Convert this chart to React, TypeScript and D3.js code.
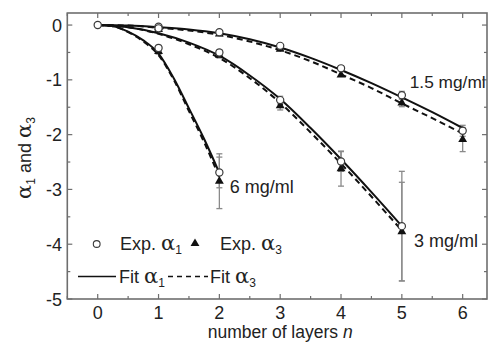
import React from "react";
import * as d3 from "d3";

// ---- data ----
const layers = [0, 1, 2, 3, 4, 5, 6];
const xTicks = [0, 1, 2, 3, 4, 5, 6];
const yTicks = [0, -1, -2, -3, -4, -5];

// experimental points [n, value, error]
const exp15a1: [number, number, number][] = [[0, 0, 0.03], [1, -0.03, 0.04], [2, -0.13, 0.04], [3, -0.38, 0.05], [4, -0.79, 0.05], [5, -1.28, 0.07], [6, -1.93, 0.1]];
const exp15a3: [number, number, number][] = [[0, 0, 0.03], [1, -0.05, 0.04], [2, -0.16, 0.04], [3, -0.44, 0.05], [4, -0.91, 0.06], [5, -1.42, 0.07], [6, -2.09, 0.22]];
const exp3a1: [number, number, number][] = [[1, -0.06, 0.04], [2, -0.5, 0.05], [3, -1.37, 0.07], [4, -2.49, 0.18], [5, -3.67, 1.0]];
const exp3a3: [number, number, number][] = [[1, -0.08, 0.04], [2, -0.55, 0.05], [3, -1.47, 0.08], [4, -2.62, 0.32], [5, -3.77, 0.9]];
const exp6a1: [number, number, number][] = [[1, -0.42, 0.05], [2, -2.69, 0.28]];
const exp6a3: [number, number, number][] = [[1, -0.48, 0.05], [2, -2.85, 0.5]];

// fit curves [n, value]
const fit15a1: [number, number][] = [[0, 0], [0.5, -0.01], [1, -0.04], [1.5, -0.08], [2, -0.15], [2.5, -0.26], [3, -0.41], [3.5, -0.6], [4, -0.82], [4.5, -1.06], [5, -1.32], [5.5, -1.59], [6, -1.88]];
const fit15a3: [number, number][] = [[0, 0], [0.5, -0.01], [1, -0.05], [1.5, -0.1], [2, -0.18], [2.5, -0.3], [3, -0.46], [3.5, -0.66], [4, -0.9], [4.5, -1.15], [5, -1.43], [5.5, -1.7], [6, -1.98]];
const fit3a1: [number, number][] = [[0, 0], [0.5, -0.04], [1, -0.15], [1.5, -0.32], [2, -0.56], [2.5, -0.92], [3, -1.35], [3.5, -1.88], [4, -2.45], [4.5, -3.05], [5, -3.67]];
const fit3a3: [number, number][] = [[0, 0], [0.5, -0.04], [1, -0.16], [1.5, -0.35], [2, -0.6], [2.5, -0.97], [3, -1.42], [3.5, -1.96], [4, -2.53], [4.5, -3.13], [5, -3.75]];
const fit6a1: [number, number][] = [[0, 0], [0.25, -0.02], [0.5, -0.12], [0.75, -0.28], [1, -0.52], [1.25, -0.97], [1.5, -1.52], [1.75, -2.08], [2, -2.7]];
const fit6a3: [number, number][] = [[0, 0], [0.25, -0.02], [0.5, -0.13], [0.75, -0.3], [1, -0.55], [1.25, -1.0], [1.5, -1.57], [1.75, -2.14], [2, -2.78]];

const seriesLabels = [
  { text: "1.5 mg/ml", n: 5.13, v: -1.15, size: 17.3 },
  { text: "6 mg/ml", n: 2.17, v: -3.06, size: 18 },
  { text: "3 mg/ml", n: 5.2, v: -4.06, size: 18 },
];

const W = 489, H = 343;
const x = d3.scaleLinear().domain([-0.5, 6.4]).range([67.3, 487]);
const y = d3.scaleLinear().domain([-5, 0.22]).range([299, 13]);

const FONT = "'Liberation Sans', Arial, sans-serif";
const GREEK = "'DejaVu Serif', 'Liberation Serif', serif";
const TXT = "#222";
const FRAME = "#6e6e6e";
const ERR = "#8a8a8a";

const line = d3.line<[number, number]>().x(d => x(d[0])).y(d => y(d[1])).curve(d3.curveMonotoneX);
const tri = d3.symbol().type(d3.symbolTriangle).size(34)();

function ErrBars({ data }: { data: [number, number, number][] }) {
  return (
    <g stroke={ERR} strokeWidth={1.3}>
      {data.map(([n, v, e], i) => (
        <g key={i}>
          <line x1={x(n)} x2={x(n)} y1={y(v + e)} y2={y(v - e)} />
          <line x1={x(n) - 3} x2={x(n) + 3} y1={y(v + e)} y2={y(v + e)} />
          <line x1={x(n) - 3} x2={x(n) + 3} y1={y(v - e)} y2={y(v - e)} />
        </g>
      ))}
    </g>
  );
}

function Circles({ data }: { data: [number, number, number][] }) {
  return (
    <g fill="white" stroke="#3a3a3a" strokeWidth={1.2}>
      {data.map(([n, v], i) => <circle key={i} cx={x(n)} cy={y(v)} r={3.6} />)}
    </g>
  );
}

function Tris({ data }: { data: [number, number, number][] }) {
  return (
    <g fill="#111">
      {data.map(([n, v], i) => <path key={i} d={tri as string} transform={`translate(${x(n)},${y(v)})`} />)}
    </g>
  );
}

export default function App() {
  const minorX = d3.range(-0.5, 6.41, 0.5);
  const minorY = d3.range(-5, 0.21, 0.5);
  const [x0, x1] = x.range();
  const [yb, yt] = y.range();
  return (
    <div style={{ position: "fixed", left: 0, top: 0 }}>
      <svg width={W} height={H} style={{ display: "block", background: "white" }}>
        {/* frame */}
        <rect x={x0} y={yt} width={x1 - x0} height={yb - yt} fill="none" stroke={FRAME} strokeWidth={1.6} />
        {/* ticks */}
        <g stroke={FRAME} strokeWidth={1.2}>
          {minorX.map((t, i) => {
            const major = Math.abs(t - Math.round(t)) < 1e-6;
            const L = major ? 5 : 3;
            return (
              <g key={i}>
                <line x1={x(t)} x2={x(t)} y1={yb} y2={yb - L} />
                <line x1={x(t)} x2={x(t)} y1={yt} y2={yt + L} />
              </g>
            );
          })}
          {minorY.map((t, i) => {
            const major = Math.abs(t - Math.round(t)) < 1e-6;
            const L = major ? 5 : 3;
            return (
              <g key={i}>
                <line x1={x0} x2={x0 + L} y1={y(t)} y2={y(t)} />
                <line x1={x1} x2={x1 - L} y1={y(t)} y2={y(t)} />
              </g>
            );
          })}
        </g>
        {/* tick labels */}
        <g fontFamily={FONT} fontSize={18} fill={TXT}>
          {xTicks.map(t => (
            <text key={t} x={x(t)} y={319} textAnchor="middle">{t}</text>
          ))}
          {yTicks.map(t => (
            <text key={t} x={62} y={y(t) + 6.5} textAnchor="end">{t === 0 ? "0" : "-" + Math.abs(t)}</text>
          ))}
        </g>
        {/* axis titles */}
        <text x={x(3)} y={338} textAnchor="middle" fontFamily={FONT} fontSize={17.5} fill={TXT}>
          number of layers <tspan fontStyle="italic">n</tspan>
        </text>
        <text transform="translate(31,158) rotate(-90)" textAnchor="middle" fontFamily={FONT} fontSize={18} fill={TXT}>
          <tspan fontFamily={GREEK} fontSize={21}>α</tspan><tspan fontSize={12} dy={4}>1</tspan><tspan dy={-4}> and </tspan><tspan fontFamily={GREEK} fontSize={21}>α</tspan><tspan fontSize={12} dy={4}>3</tspan>
        </text>

        {/* error bars */}
        <ErrBars data={exp15a1.filter(d => d[0] === 5 || d[0] === 6 || d[0] === 0)} />
        <ErrBars data={exp15a3.filter(d => d[0] === 5 || d[0] === 6)} />
        <ErrBars data={exp3a1} />
        <ErrBars data={exp3a3} />
        <ErrBars data={exp6a1} />
        <ErrBars data={exp6a3} />

        {/* fits */}
        <g fill="none" stroke="#111" strokeWidth={2}>
          <path d={line(fit15a1) as string} />
          <path d={line(fit3a1) as string} />
          <path d={line(fit6a1) as string} />
        </g>
        <g fill="none" stroke="#111" strokeWidth={2} strokeDasharray="6,4">
          <path d={line(fit15a3) as string} />
          <path d={line(fit3a3) as string} />
          <path d={line(fit6a3) as string} />
        </g>

        {/* points */}
        <Tris data={exp15a3.filter(d => d[0] > 0)} />
        <Tris data={exp3a3} />
        <Tris data={exp6a3} />
        <Circles data={exp15a1} />
        <Circles data={exp3a1} />
        <Circles data={exp6a1} />

        {/* series labels */}
        <g fontFamily={FONT} fill={TXT}>
          {seriesLabels.map((l, i) => (
            <text key={i} x={x(l.n)} y={y(l.v)} fontSize={l.size}>{l.text}</text>
          ))}
        </g>

        {/* legend */}
        <g fontFamily={FONT} fontSize={18} fill={TXT}>
          <circle cx={96.7} cy={244} r={3.4} fill="white" stroke="#3a3a3a" strokeWidth={1.1} />
          <text x={120} y={250}>Exp. <tspan fontFamily={GREEK} fontSize={21}>α</tspan><tspan fontSize={12} dy={4}>1</tspan></text>
          <path d={tri as string} transform="translate(195,243.5)" fill="#111" />
          <text x={220} y={250}>Exp. <tspan fontFamily={GREEK} fontSize={21}>α</tspan><tspan fontSize={12} dy={4}>3</tspan></text>
          <line x1={78} x2={116} y1={276.5} y2={276.5} stroke="#111" strokeWidth={1.6} />
          <text x={119} y={283}>Fit <tspan fontFamily={GREEK} fontSize={21}>α</tspan><tspan fontSize={12} dy={4}>1</tspan></text>
          <line x1={168} x2={208} y1={276.5} y2={276.5} stroke="#111" strokeWidth={1.6} strokeDasharray="5,4" />
          <text x={210} y={283}>Fit <tspan fontFamily={GREEK} fontSize={21}>α</tspan><tspan fontSize={12} dy={4}>3</tspan></text>
        </g>
      </svg>
    </div>
  );
}
